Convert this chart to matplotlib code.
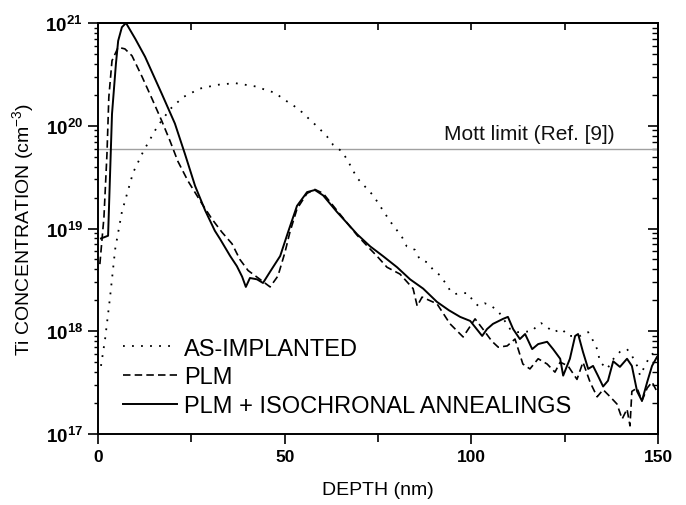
import math
import matplotlib
matplotlib.use("Agg")
from matplotlib import pyplot as plt
from matplotlib.ticker import LogLocator, FixedLocator, FuncFormatter, NullFormatter

plt.rcParams['font.family'] = ['Liberation Sans', 'DejaVu Sans']
plt.rcParams['mathtext.fontset'] = 'custom'
plt.rcParams['mathtext.rm'] = 'Liberation Sans'
plt.rcParams['mathtext.bf'] = 'Liberation Sans:bold'

# AS-IMPLANTED (dotted)
depth_imp = [0.8, 1.9, 3.2, 4.6, 6.4, 9.4, 12.1, 15.8, 19.3, 22.8, 27.3, 31.9, 36.7,
             42.6, 45.3, 47.4, 49.6, 52.2, 54.6, 56.8, 58.9, 61.3, 63.0, 65.4, 67.0,
             69.4, 73.7, 78.2, 81.4, 82.7, 84.9, 86.2, 88.1, 89.7, 91.6, 93.2, 94.3,
             95.6, 97.0, 99.1, 100.5, 101.9, 103.6, 105.0, 107.2, 110.4, 112.5, 116.3,
             117.9, 118.7, 120.3, 121.9, 124.3, 125.9, 129.1, 131.3, 132.6, 133.7,
             134.5, 136.4, 137.9, 139.8, 141.7, 143.0, 144.4, 145.2, 146.5, 147.9, 149.7]
conc_imp = [4.6e17, 8.4e17, 2.1e18, 6.3e18, 1.45e19, 3.5e19, 5.6e19, 9.7e19, 1.45e20,
            1.9e20, 2.3e20, 2.5e20, 2.6e20, 2.4e20, 2.2e20, 2.1e20, 1.82e20, 1.59e20,
            1.36e20, 1.14e20, 9.7e19, 7.9e19, 6.5e19, 5.6e19, 4.5e19, 3.1e19, 2.1e19,
            1.18e19, 8.3e18, 6.7e18, 6.2e18, 5.0e18, 4.7e18, 4.0e18, 3.5e18, 2.9e18,
            2.5e18, 2.3e18, 2.35e18, 2.35e18, 1.96e18, 1.76e18, 1.87e18, 1.8e18,
            1.57e18, 1.05e18, 9.8e17, 1.0e18, 1.17e18, 1.2e18, 1.1e18, 9.8e17, 1.05e18,
            9.0e17, 9.0e17, 9.8e17, 8.1e17, 6.7e17, 5.0e17, 4.3e17, 5.3e17, 6.3e17,
            6.7e17, 5.8e17, 4.6e17, 3.7e17, 4.6e17, 5.8e17, 6.4e17]

# PLM (dashed)
depth_plm = [0.5, 1.6, 2.4, 2.9, 3.75, 5.4, 7.2, 9.1, 11.8, 14.5, 17.1, 19.3, 21.4,
             24.1, 27.9, 30.5, 33.2, 35.9, 38.0, 40.2, 42.9, 46.1, 48.2, 50.1, 51.4,
             53.3, 56.0, 58.1, 60.3, 64.0, 67.0, 69.4, 72.9, 74.7, 77.4, 80.9, 84.4,
             85.5, 86.8, 90.8, 94.3, 97.8, 101.0, 103.1, 105.5, 107.2, 109.6, 111.7,
             113.8, 115.7, 117.9, 120.3, 122.4, 123.8, 125.9, 128.3, 129.9, 131.8,
             133.7, 135.3, 137.2, 139.0, 140.4, 141.7, 142.5, 143.0, 144.4, 145.7,
             147.1, 148.4, 149.7]
conc_plm = [4.5e18, 1.3e19, 5.3e19, 1.9e20, 4.3e20, 5.8e20, 5.6e20, 4.8e20, 3.0e20,
            1.82e20, 1.11e20, 7.1e19, 4.5e19, 2.9e19, 1.73e19, 1.24e19, 9.2e18, 7.1e18,
            5.0e18, 3.9e18, 3.3e18, 2.7e18, 3.45e18, 5.9e18, 9.2e18, 1.55e19, 2.2e19,
            2.4e19, 2.2e19, 1.5e19, 1.1e19, 8.6e18, 6.3e18, 5.4e18, 4.2e18, 3.6e18,
            2.6e18, 1.76e18, 2.15e18, 1.85e18, 1.18e18, 8.8e17, 1.32e18, 1.05e18,
            8.0e17, 7.0e17, 7.2e17, 8.4e17, 4.8e17, 4.3e17, 5.4e17, 4.8e17, 4.0e17,
            5.0e17, 4.6e17, 3.4e17, 5.0e17, 3.2e17, 2.3e17, 2.7e17, 2.3e17, 1.96e17,
            1.4e17, 1.75e17, 1.2e17, 2.6e17, 2.8e17, 2.1e17, 2.8e17, 3.2e17, 2.6e17]

# PLM + ISOCHRONAL ANNEALINGS (solid)
depth_ann = [0.8, 2.7, 3.75, 4.8, 5.4, 6.4, 7.5, 10.0, 12.6, 17.1, 20.6, 23.3, 26.0,
             28.7, 31.3, 32.7, 35.4, 37.2, 38.6, 39.6, 40.7, 42.6, 44.2, 46.1, 48.8,
             50.9, 53.3, 56.0, 58.1, 60.3, 64.0, 67.0, 69.4, 72.9, 76.3, 80.1, 83.6,
             87.1, 90.8, 94.0, 97.0, 99.7, 102.9, 104.2, 105.8, 108.5, 109.8, 111.2,
             113.0, 114.4, 116.3, 117.9, 120.3, 121.9, 123.8, 124.6, 126.4, 127.8,
             128.6, 129.9, 131.3, 132.6, 133.9, 135.3, 136.6, 138.0, 139.8, 141.7,
             143.0, 144.4, 145.7, 147.1, 148.4, 149.7]
conc_ann = [8.0e18, 8.5e18, 1.3e20, 4.0e20, 6.7e20, 9.1e20, 1.0e21, 7.0e20, 4.7e20,
            2.04e20, 1.05e20, 5.3e19, 2.6e19, 1.5e19, 9.5e18, 7.9e18, 5.4e18, 4.3e18,
            3.4e18, 2.7e18, 3.3e18, 3.2e18, 2.95e18, 3.8e18, 5.4e18, 9.2e18, 1.66e19,
            2.26e19, 2.37e19, 2.1e19, 1.45e19, 1.1e19, 8.8e18, 6.7e18, 5.4e18, 4.2e18,
            3.2e18, 2.6e18, 1.93e18, 1.6e18, 1.38e18, 1.26e18, 9.0e17, 1.05e18,
            1.18e18, 1.32e18, 1.38e18, 1.05e18, 8.4e17, 9.4e17, 6.7e17, 7.5e17, 7.9e17,
            6.7e17, 5.4e17, 3.7e17, 5.4e17, 9.0e17, 9.4e17, 6.3e17, 4.3e17, 4.6e17,
            3.7e17, 2.9e17, 3.3e17, 5.1e17, 4.5e17, 5.4e17, 4.6e17, 2.6e17, 2.1e17,
            3.2e17, 4.6e17, 5.6e17]

mott_limit = 6e19

fig = plt.figure(figsize=(6.86, 5.06), dpi=100)
ax = fig.add_axes([98/686, 1 - 435/506, 560/686, 411/506])

ax.axhline(mott_limit, color='#a0a0a0', lw=1.0, zorder=1)
ax.text(138.5, mott_limit * 1.12, 'Mott limit (Ref. [9])', fontsize=15,
        ha='right', va='bottom', color='#111111')

ax.plot(depth_imp, conc_imp, color='black', lw=1.3, linestyle=(0, (1, 4)),
        label='AS-IMPLANTED')
ax.plot(depth_plm, conc_plm, color='black', lw=1.2, linestyle=(0, (4.5, 2.5)),
        label='PLM')
ax.plot(depth_ann, conc_ann, color='black', lw=1.4,
        label='PLM + ISOCHRONAL ANNEALINGS')

ax.set_yscale('log')
ax.set_xlim(0, 150)
ax.set_ylim(1e17, 1e21)

ax.xaxis.set_major_locator(FixedLocator([0, 50, 100, 150]))
ax.xaxis.set_minor_locator(FixedLocator([25, 75, 125]))
ax.yaxis.set_major_locator(LogLocator(base=10, numticks=10))
ax.yaxis.set_minor_locator(LogLocator(base=10, subs=range(2, 10), numticks=20))
ax.yaxis.set_major_formatter(FuncFormatter(
    lambda v, p: r'$\mathbf{10^{%d}}$' % round(math.log10(v))))
ax.yaxis.set_minor_formatter(NullFormatter())

ax.tick_params(axis='both', which='major', direction='out', length=7, width=1.2,
               labelsize=12.5, pad=4)
ax.tick_params(axis='y', which='major', labelsize=13.5)
ax.tick_params(axis='x', which='minor', direction='out', length=6, width=1.2)
ax.tick_params(axis='y', which='minor', direction='out', length=3, width=1.0)
for lab in ax.get_xticklabels():
    lab.set_fontweight('bold')

# mirrored ticks on top and right, pointing inward
top = ax.secondary_xaxis('top')
top.xaxis.set_major_locator(FixedLocator([0, 50, 100, 150]))
top.xaxis.set_minor_locator(FixedLocator([25, 75, 125]))
top.tick_params(which='both', direction='in', length=5, width=1.2, labeltop=False)
right = ax.secondary_yaxis('right')
right.yaxis.set_major_locator(LogLocator(base=10, numticks=10))
right.yaxis.set_minor_locator(LogLocator(base=10, subs=range(2, 10), numticks=20))
right.tick_params(which='major', direction='in', length=7, width=1.2, labelright=False)
right.tick_params(which='minor', direction='in', length=4, width=1.0, labelright=False)
right.yaxis.set_minor_formatter(NullFormatter())
for sec in (top, right):
    for s in sec.spines.values():
        s.set_linewidth(1.4)

for s in ax.spines.values():
    s.set_linewidth(1.4)

ax.set_xlabel('DEPTH (nm)', fontsize=14, labelpad=12)
ax.set_ylabel(r'Ti CONCENTRATION (cm$^{-3}$)', fontsize=14, labelpad=6)

ax.legend(loc='center left', bbox_to_anchor=(0.044, 0.138), frameon=False,
          fontsize=17, handlelength=2.3, handletextpad=0.3, labelspacing=0.28,
          borderpad=0, borderaxespad=0)

fig.savefig('out.png', dpi=100)
